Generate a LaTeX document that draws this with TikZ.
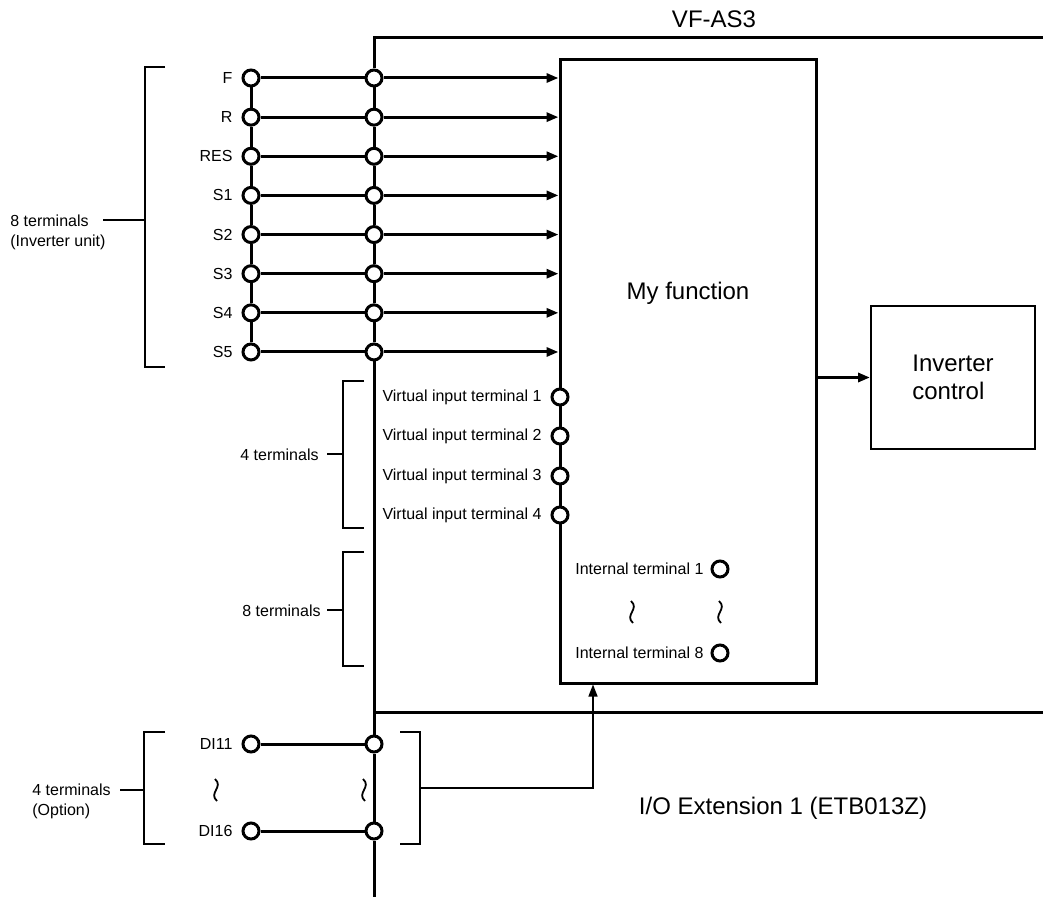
\documentclass[tikz,border=0pt]{standalone}
\usepackage{fontspec}
\setmainfont{Liberation Sans}
\usetikzlibrary{arrows.meta,positioning,calc}

\begin{document}
\begin{tikzpicture}[x=0.5pt,y=-0.5pt,>={Triangle[length=6pt,width=4.5pt]},
      term/.style={circle,draw,fill=white,line width=1.5pt,minimum size=8pt,inner sep=0pt},
      lbl/.style={font=\fontsize{8}{10}\selectfont},
      big/.style={font=\fontsize{12}{14}\selectfont},
      w/.style={line width=1.5pt},
      brk/.style={line width=0.7pt}]
    \useasboundingbox (0,0) rectangle (1043,897);
    % blocks
    \node[draw,line width=1.5pt,minimum width=128pt,minimum height=311.5pt] (func) at (688,371.5) {};
    \node[big] (funclbl) at (688,293) {My function};
    \node[draw,line width=1pt,minimum width=82pt,minimum height=71.5pt,align=left,big] (inv) at (953,377.5) {Inverter\\control};
    \draw[w,->] (inv.west -| func.east) -- (inv.west);
    % VF-AS3 frame
    \coordinate (vtop) at (374,38);
    \coordinate (vright) at (1043,38);
    \coordinate (vbot) at (374,897);
    \coordinate (sepl) at (374,712);
    \coordinate (sepr) at (1043,712);
    \node[big] (vfas) at (714,19) {VF-AS3};
    \node[big] (ioext) at (783,808) {I/O Extension 1 (ETB013Z)};
    \draw[w] (sepl) -- (sepr);
    % inverter unit terminals
    \foreach \i/\t in {1/F,2/R,3/RES,4/S1,5/S2,6/S3,7/S4,8/S5} {
      \node[term,label={[lbl,label distance=1pt]left:\t}] (L\i) at (251,{78+39.14*(\i-1)}) {};
      \node[term] (M\i) at (374,{78+39.14*(\i-1)}) {};
      \draw[w] (L\i) -- (M\i);
      \draw[w,->] (M\i) -- (M\i -| func.west);
    }
    \foreach \i [evaluate=\i as \j using int(\i+1)] in {1,...,7} {
      \draw[w] (L\i) -- (L\j);
      \draw[w] (M\i) -- (M\j);
    }
    \draw[w] (vright) -- (vtop) -- (M1);
    % virtual and internal terminals
    \foreach \i/\y in {1/397,2/436,3/476,4/515}
      \node[term,label={[lbl,label distance=1pt]left:Virtual input terminal \i}] (V\i) at (560,\y) {};
    \node[term,label={[lbl,label distance=0pt]left:Internal terminal 1}] (I1) at (720,569) {};
    \node[term,label={[lbl,label distance=0pt]left:Internal terminal 8}] (I8) at (720,653) {};
    % option terminals
    \foreach \i/\n/\y in {1/DI11/744,2/DI16/831} {
      \node[term,label={[lbl,label distance=1pt]left:\n}] (DL\i) at (251,\y) {};
      \node[term] (DM\i) at (374,\y) {};
      \draw[w] (DL\i) -- (DM\i);
    }
    \draw[w] (M8) -- (DM1) -- (DM2) -- (vbot);
    % wavy omission marks
    \foreach \x/\y in {632/612,720/612,216/790,364/790}
      \draw[line width=0.9pt] (\x-1,\y-11) .. controls (\x+8,\y-3) and (\x-8,\y+3) .. (\x+1,\y+11);
    % brackets
    \draw[brk] (165,67) -- (145,67) -- (145,367) -- (165,367);
    \draw[brk] (103,220) -- (145,220);
    \node[lbl,align=left,anchor=west,inner sep=0pt] (unitlbl) at (10,232) {8 terminals\\(Inverter unit)};
    \draw[brk] (364,381) -- (343,381) -- (343,528) -- (364,528);
    \draw[brk] (327,454) -- (343,454);
    \node[lbl,anchor=east,inner sep=0pt] (virtlbl) at (319,455) {4 terminals};
    \draw[brk] (364,552) -- (343,552) -- (343,666) -- (364,666);
    \draw[brk] (327,610) -- (343,610);
    \node[lbl,anchor=east,inner sep=0pt] (intlbl) at (321,611) {8 terminals};
    \draw[brk] (165,732) -- (144,732) -- (144,844) -- (165,844);
    \draw[brk] (120,790) -- (144,790);
    \node[lbl,align=left,anchor=west,inner sep=0pt] (optlbl) at (32,801) {4 terminals\\(Option)};
    \draw[brk] (400,732) -- (420,732) -- (420,844) -- (400,844);
    \coordinate (iob) at (420,788);
    \coordinate (iou) at (593,788);
    \draw[brk,->] (iob) -- (iou) -- (iou |- func.south);
  \end{tikzpicture}
\end{document}
